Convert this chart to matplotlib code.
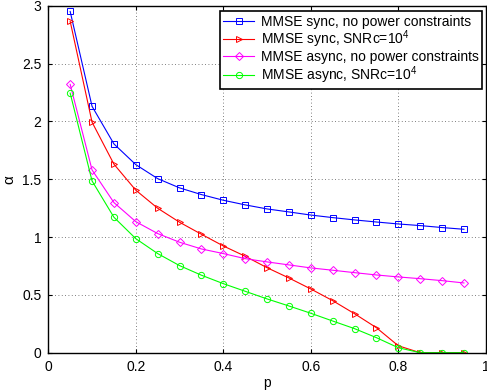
import matplotlib
matplotlib.use("Agg")
import matplotlib.pyplot as plt

plt.rcParams['font.family'] = ['Liberation Sans', 'DejaVu Sans']
plt.rcParams['mathtext.fontset'] = 'custom'
plt.rcParams['mathtext.rm'] = 'Liberation Sans'

p = [0.05, 0.10, 0.15, 0.20, 0.25, 0.30, 0.35, 0.40, 0.45, 0.50,
     0.55, 0.60, 0.65, 0.70, 0.75, 0.80, 0.85, 0.90, 0.95]
sync_nopc = [2.95, 2.13, 1.805, 1.626, 1.505, 1.425, 1.367, 1.318, 1.278, 1.243,
             1.217, 1.19, 1.168, 1.148, 1.13, 1.113, 1.099, 1.082, 1.067]
sync_snr = [2.865, 1.993, 1.63, 1.405, 1.249, 1.128, 1.024, 0.923, 0.834, 0.735,
            0.646, 0.551, 0.45, 0.337, 0.216, 0.06, 0.0, 0.0, 0.0]
async_nopc = [2.32, 1.58, 1.298, 1.133, 1.03, 0.955, 0.897, 0.857, 0.813, 0.785,
              0.759, 0.733, 0.713, 0.692, 0.672, 0.655, 0.64, 0.623, 0.603]
async_snr = [2.244, 1.485, 1.171, 0.986, 0.857, 0.753, 0.67, 0.597, 0.531, 0.465,
             0.404, 0.341, 0.274, 0.208, 0.13, 0.043, 0.0, 0.0, 0.0]
labels = ["MMSE sync, no power constraints", "MMSE sync, SNRc=10$^4$",
          "MMSE async, no power constraints", "MMSE async, SNRc=10$^4$"]

fig = plt.figure(figsize=(4.87, 3.92), dpi=100)
ax = fig.add_axes([48.3/487, 39.3/392, (485.8-48.3)/487, (352.7-5.7)/392])

styles = [("#0000ff", "s"), ("#ff0000", ">"), ("#ff00ff", "D"), ("#00ff00", "o")]
series = [sync_nopc, sync_snr, async_nopc, async_snr]
for (c, m), s, lab in zip(styles, series, labels):
    ms = 4.5 if m != "D" else 4.2
    ax.plot(p, s, color=c, marker=m, markerfacecolor="none", markeredgecolor=c,
            markersize=ms, linewidth=0.8, markeredgewidth=0.7, label=lab)

ax.set_xlim(0, 1)
ax.set_ylim(0, 3)
ax.set_xticks([0, 0.2, 0.4, 0.6, 0.8, 1])
ax.set_xticklabels(["0", "0.2", "0.4", "0.6", "0.8", "1"])
ax.set_yticks([0, 0.5, 1, 1.5, 2, 2.5, 3])
ax.set_yticklabels(["0", "0.5", "1", "1.5", "2", "2.5", "3"])
ax.tick_params(direction="in", labelsize=10, length=3, width=0.8, top=True,
               right=True, pad=5)
ax.grid(True, linestyle=(0, (1, 3)), color="#555555", linewidth=0.6)
for sp in ax.spines.values():
    sp.set_linewidth(1.0)
ax.set_xlabel("p", fontsize=10, labelpad=2)
ax.set_ylabel("α", fontsize=11, labelpad=4)

leg = ax.legend(loc="upper right", bbox_to_anchor=(0.992, 0.984), fontsize=10,
                handlelength=2.2, handletextpad=0.5, borderpad=0.25,
                labelspacing=0.0, fancybox=False, framealpha=1, edgecolor="black",
                borderaxespad=0)
leg.get_frame().set_linewidth(1.2)

fig.savefig("out.png", dpi=100)
